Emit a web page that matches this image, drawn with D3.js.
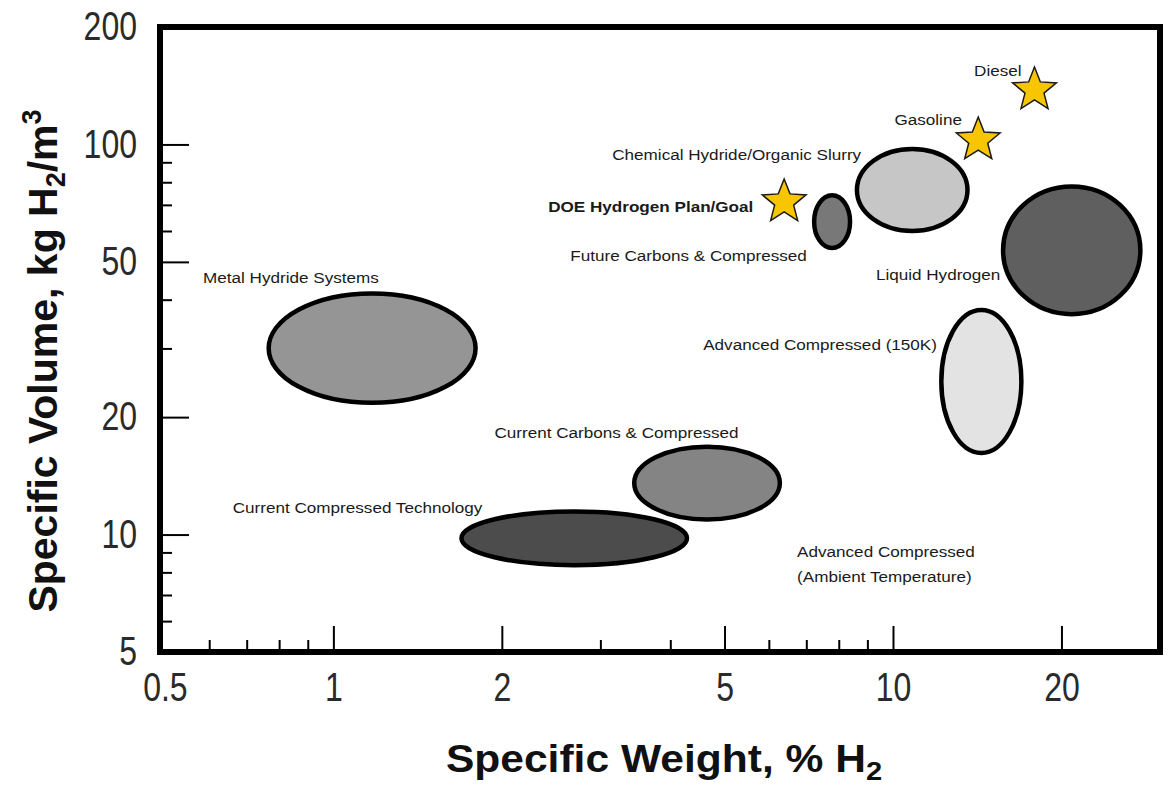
<!DOCTYPE html>
<html>
<head>
<meta charset="utf-8">
<script src="https://cdn.jsdelivr.net/npm/d3@7"></script>
<style>
body { margin: 0; background: #fff; }
svg { display: block; font-family: "Liberation Sans", Arial, Helvetica, sans-serif; }
</style>
</head>
<body>
<div id="chart"></div>
<script>
// storage technologies, drawn as ellipses: range of specific weight (% H2) and specific volume (kg H2/m3)
const techNames = ["Metal Hydride Systems", "Current Compressed Technology", "Current Carbons & Compressed",
  "Advanced Compressed (150K)", "Liquid Hydrogen", "Chemical Hydride/Organic Slurry", "Future Carbons & Compressed"];
const techWeightLow  = [0.76, 1.68, 3.42, 12.1, 15.6, 8.55, 7.17];
const techWeightHigh = [1.81, 4.32, 6.33, 17.1, 27.9, 13.7, 8.45];
const techVolumeLow  = [21.5, 8.25, 10.8, 16.0, 36.3, 59.3, 53.6];
const techVolumeHigh = [42.0, 11.6, 17.0, 38.1, 79.0, 98.5, 75.0];
const techFill = ["#959595", "#4c4c4c", "#848484", "#e3e3e3", "#5f5f5f", "#c6c6c6", "#787878"];

// reference points, drawn as stars
const fuelNames  = ["DOE Hydrogen Plan/Goal", "Gasoline", "Diesel"];
const fuelWeight = [6.39, 14.2, 17.9];
const fuelVolume = [71.2, 102.6, 137.9];

// axes
const xMajorTicks = [0.5, 1, 2, 5, 10, 20];
const xMinorTicks = [0.6, 0.7, 0.8, 0.9, 3, 4, 6, 7, 8, 9];
const yMajorTicks = [5, 10, 20, 50, 100, 200];
const yMinorTicks = [6, 7, 8, 9, 30, 40, 60, 70, 80, 90];

// text labels, anchored at (weight, volume) in chart units
const labelText = ["Metal Hydride Systems", "Current Compressed Technology", "Current Carbons & Compressed",
  "Advanced Compressed (150K)", "Liquid Hydrogen", "Chemical Hydride/Organic Slurry", "Future Carbons & Compressed",
  "DOE Hydrogen Plan/Goal", "Gasoline", "Diesel", "Advanced Compressed|(Ambient Temperature)"];
const labelWeight = [0.585, 0.661, 1.94, 4.58, 9.32, 3.15, 2.65, 2.42, 10.06, 13.96, 6.74];
const labelVolume = [44.1, 11.35, 17.67, 29.7, 44.9, 91.2, 50.2, 67.1, 112.1, 149.8, 8.75];

const margin = {top: 27, right: 9, bottom: 135, left: 160},
  width = 1169 - margin.left - margin.right,
  height = 787 - margin.top - margin.bottom;

const svg = d3.select("#chart")
  .append("svg")
  .attr("width", 1169)
  .attr("height", 787);

const g = svg.append("g")
  .attr("transform", `translate(${margin.left},${margin.top})`);

const x = d3.scaleLog().domain([0.49, 30]).range([0, width]);
const y = d3.scaleLog().domain([5, 200]).range([height, 0]);

const narrow = 0.8;

// X axis (ticks point inward)
const xAxis = g.append("g")
  .attr("transform", `translate(0,${height})`)
  .call(d3.axisBottom(x).tickValues(xMajorTicks).tickSize(-26).tickPadding(21).tickFormat(d3.format("")));
g.append("g")
  .attr("transform", `translate(0,${height})`)
  .call(d3.axisBottom(x).tickValues(xMinorTicks).tickSize(-12).tickFormat(""));

// Y axis
const yAxis = g.append("g")
  .call(d3.axisLeft(y).tickValues(yMajorTicks).tickSize(-29).tickPadding(23).tickFormat(d3.format("")));
g.append("g")
  .call(d3.axisLeft(y).tickValues(yMinorTicks).tickSize(-12).tickFormat(""));

g.selectAll(".domain").remove();
g.selectAll(".tick line").attr("stroke", "#000").attr("stroke-width", 2);

xAxis.selectAll("text")
  .attr("font-size", 40)
  .attr("fill", "#2a2a2a")
  .attr("font-family", "'Liberation Sans', Arial, sans-serif")
  .attr("transform", `scale(${narrow},1)`);
yAxis.selectAll("text")
  .attr("font-size", 40)
  .attr("fill", "#2a2a2a")
  .attr("font-family", "'Liberation Sans', Arial, sans-serif")
  .attr("x", -23 / narrow)
  .attr("transform", `scale(${narrow},1)`);
// top tick label "200" sits at the frame corner, no tick line
yAxis.selectAll(".tick").filter(d => d === 200).select("line").remove();
xAxis.selectAll(".tick").filter(d => d === 0.5).select("line").remove();

// ellipses
const tech = techNames.map((name, i) => ({
  name, wLo: techWeightLow[i], wHi: techWeightHigh[i], vLo: techVolumeLow[i], vHi: techVolumeHigh[i], fill: techFill[i]
}));

g.selectAll("ellipse.tech")
  .data(tech)
  .join("ellipse")
  .attr("class", "tech")
  .attr("cx", d => (x(d.wLo) + x(d.wHi)) / 2)
  .attr("cy", d => (y(d.vLo) + y(d.vHi)) / 2)
  .attr("rx", d => (x(d.wHi) - x(d.wLo)) / 2 - 2)
  .attr("ry", d => (y(d.vLo) - y(d.vHi)) / 2 - 2)
  .attr("fill", d => d.fill)
  .attr("stroke", "#000")
  .attr("stroke-width", 4.5);

// stars
const starPoints = d3.range(10).map(k => [k * Math.PI / 5, k % 2 ? 10 : 23]);
const starPath = d3.lineRadial().curve(d3.curveLinearClosed)(starPoints);

g.selectAll("path.fuel")
  .data(fuelNames.map((name, i) => ({name, w: fuelWeight[i], v: fuelVolume[i]})))
  .join("path")
  .attr("class", "fuel")
  .attr("d", starPath)
  .attr("transform", d => `translate(${x(d.w)},${y(d.v)})`)
  .attr("fill", "#f7c600")
  .attr("stroke", "#1a1a1a")
  .attr("stroke-width", 1.5)
  .attr("stroke-linejoin", "miter");

// labels
const labels = g.selectAll("text.label")
  .data(labelText.map((t, i) => ({lines: t.split("|"), w: labelWeight[i], v: labelVolume[i]})))
  .join("text")
  .attr("class", "label")
  .attr("transform", d => `translate(${x(d.w)},${y(d.v)}) scale(1.18,1)`)
  .attr("font-size", 14.5)
  .attr("fill", "#1a1a1a")
  .attr("font-weight", d => d.lines[0].startsWith("DOE") ? "bold" : "normal");

labels.selectAll("tspan")
  .data(d => d.lines)
  .join("tspan")
  .attr("x", 0)
  .attr("dy", (d, i) => i === 0 ? 0 : 25)
  .text(d => d);

// frame
g.append("rect")
  .attr("width", width)
  .attr("height", height)
  .attr("fill", "none")
  .attr("stroke", "#000")
  .attr("stroke-width", 6);

// axis titles
const xTitle = svg.append("text")
  .attr("transform", `translate(${margin.left + width / 2 + 4},772) scale(1.12,1)`)
  .attr("text-anchor", "middle")
  .attr("font-size", 38)
  .attr("font-weight", "bold")
  .attr("fill", "#111");
xTitle.append("tspan").text("Specific Weight, % H");
xTitle.append("tspan").attr("font-size", 26).attr("dy", 8).text("2");

const yTitle = svg.append("text")
  .attr("transform", "translate(57,361) rotate(-90)")
  .attr("text-anchor", "middle")
  .attr("font-size", 41)
  .attr("font-weight", "bold")
  .attr("fill", "#111");
yTitle.append("tspan").text("Specific Volume, kg H");
yTitle.append("tspan").attr("font-size", 27).attr("dy", 8).text("2");
yTitle.append("tspan").attr("dy", -8).text("/m");
yTitle.append("tspan").attr("font-size", 27).attr("dy", -16).text("3");
</script>
</body>
</html>
